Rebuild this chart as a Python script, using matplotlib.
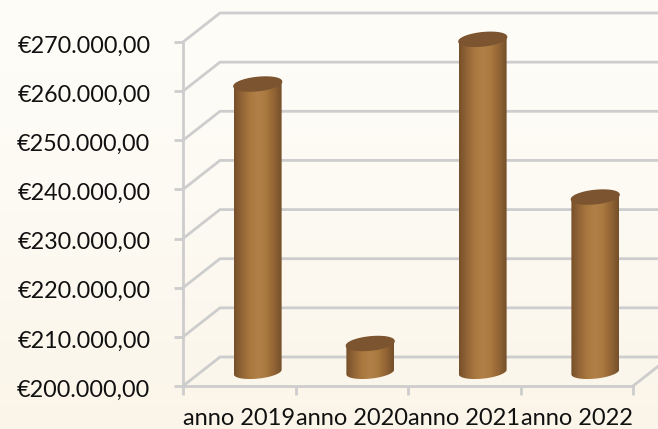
import matplotlib
matplotlib.use('Agg')
import matplotlib.pyplot as plt
import matplotlib.transforms as mtrans
import numpy as np
from matplotlib.colors import LinearSegmentedColormap
from matplotlib.patches import Polygon
from matplotlib.ticker import FuncFormatter

years = ['anno 2019', 'anno 2020', 'anno 2021', 'anno 2022']
values = [258600, 205800, 267700, 235600]
y_ticks = [200000, 210000, 220000, 230000, 240000, 250000, 260000, 270000]

W, H = 658, 429
plt.rcParams['font.family'] = ['Lato', 'DejaVu Sans']
fig = plt.figure(figsize=(W / 100, H / 100), dpi=100)

# sfondo crema
bg = fig.add_axes([0, 0, 1, 1], zorder=0)
bg.axis('off')
grad = np.linspace(0, 1, 200).reshape(-1, 1)
bg_cmap = LinearSegmentedColormap.from_list('bg', ['#fefdf8', '#fdfaf3', '#fbf5e9'])
bg.imshow(grad, aspect='auto', cmap=bg_cmap, extent=(0, 1, 0, 1))

left, right, top, bottom = 183, 633, 42, 386
ax = fig.add_axes([left / W, 1 - bottom / H, (right - left) / W, (bottom - top) / H], zorder=1)
ax.patch.set_alpha(0)
ax.set_xlim(0, 4)
ax.set_ylim(200000, 270000)

px_x = 4 / (right - left)
px_y = 70000 / (bottom - top)
depth_x, depth_y = 37 * px_x, 29 * px_y
grid_c = '#cdcdcd'

# griglia sulle pareti 3D
for v in y_ticks:
    ax.plot([0, depth_x, 4 + 0.5], [v, v + depth_y, v + depth_y], color=grid_c, lw=2,
            clip_on=False, zorder=1, solid_joinstyle='miter')
ax.plot([4, 4 + depth_x], [200000, 200000 + depth_y], color=grid_c, lw=2, clip_on=False, zorder=1)

for name in ['top', 'right']:
    ax.spines[name].set_visible(False)
for name in ['left', 'bottom']:
    ax.spines[name].set_color(grid_c)
    ax.spines[name].set_linewidth(2)
    ax.spines[name].set_zorder(1.5)

ax.set_yticks(y_ticks)
ax.yaxis.set_major_formatter(FuncFormatter(lambda v, p: '€' + f'{v:,.2f}'.replace(',', 'X').replace('.', ',').replace('X', '.')))
ax.set_xticks(range(5))
ax.set_xticklabels([])
ax.tick_params(axis='y', length=6.5, width=2, color=grid_c, labelsize=16.8, pad=17, labelcolor='#111111')
ax.tick_params(axis='x', length=6.5, width=2, color=grid_c)
shift = mtrans.ScaledTranslation(0, -1.5 / 72, fig.dpi_scale_trans)
for lab in ax.get_yticklabels():
    lab.set_transform(lab.get_transform() + shift)
for i, y in enumerate(years):
    ax.annotate(y, (i + 0.5, 0), xycoords=('data', 'axes fraction'), xytext=(0, -16),
                textcoords='offset points', ha='center', va='top', fontsize=17, color='#111111',
                annotation_clip=False)

# cilindri
body_cmap = LinearSegmentedColormap.from_list('body', ['#76502a', '#946536', '#a8783f', '#b08048', '#a9793f', '#946536', '#74502a'])
a, b, tilt = 24, 6.6, np.radians(6)


def ellipse(cx, cy, t):
    ex = a * np.cos(t)
    ey = b * np.sin(t)
    return (cx + (ex * np.cos(tilt) - ey * np.sin(tilt)) * px_x,
            cy + (ex * np.sin(tilt) + ey * np.cos(tilt)) * px_y)


for i, v in enumerate(values):
    cx = i + 0.5 + 18.5 * px_x
    cy0 = 200000 + 14 * px_y
    cy1 = v + 14 * px_y
    t_low = np.linspace(np.pi, 2 * np.pi, 60)
    t_up = np.linspace(0, np.pi, 60)
    lx, ly = ellipse(cx, cy0, t_low)
    ux, uy = ellipse(cx, cy1, t_up)
    verts = np.column_stack([np.r_[lx, ux], np.r_[ly, uy]])
    clip = Polygon(verts, closed=True, transform=ax.transData, fc='none', ec='none')
    ax.add_patch(clip)
    clip.set_clip_on(False)
    xmin, xmax = cx - a * px_x, cx + a * px_x
    im = ax.imshow(np.linspace(0, 1, 100).reshape(1, -1), cmap=body_cmap, aspect='auto',
                   extent=(xmin, xmax, cy0 - 12 * px_y, cy1 + 12 * px_y), zorder=3)
    im.set_clip_box(fig.bbox)
    im.set_clip_path(clip)
    # tappo superiore
    t_all = np.linspace(0, 2 * np.pi, 120)
    tx, ty = ellipse(cx, cy1, t_all)
    ax.fill(tx, ty, color='#7c5430', zorder=4, clip_on=False)

ax.set_xlim(0, 4)
ax.set_ylim(200000, 270000)
fig.savefig('out.png', dpi=100)
